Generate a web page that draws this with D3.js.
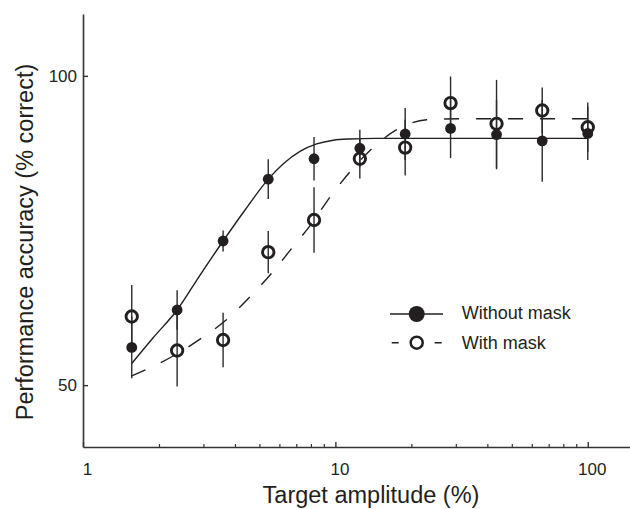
<!DOCTYPE html>
<html>
<head>
<meta charset="utf-8">
<script src="https://cdn.jsdelivr.net/npm/d3@7"></script>
<style>
  html, body { margin: 0; padding: 0; background: #fff; }
  svg { display: block; }
  text { font-family: "Liberation Sans", Arial, sans-serif; fill: #231f20; }
</style>
</head>
<body>
<svg id="chart" width="630" height="509"></svg>
<script>
// ---- data ----
const amplitudes   = [1.56, 2.36, 3.59, 5.42, 8.23, 12.5, 18.9, 28.6, 43.5, 66, 100];
const noMask       = [56.1, 62.15, 73.3, 83.3, 86.6, 88.3, 90.6, 91.5, 90.5, 89.5, 90.7];
const noMaskErr    = [5.0, 3.2, 1.7, 3.2, 3.5, 3.0, 4.2, 4.8, 5.6, 6.6, 4.3];
const withMask     = [61.1, 55.6, 57.3, 71.5, 76.7, 86.6, 88.4, 95.6, 92.25, 94.4, 91.7];
const withMaskErr  = [5.1, 5.8, 4.4, 3.4, 5.3, 3.2, 4.5, 4.3, 7.1, 3.7, 4.0];

// fitted psychometric curves
const fitNoMaskX   = [1.56, 1.9, 2.36, 2.91, 3.59, 4.4, 5.42, 6.22, 7.24, 8.43, 9.81, 11.4, 14.4, 100];
const fitNoMaskY   = [53.5, 57.7, 62.15, 67.8, 73.3, 78.4, 83.3, 85.8, 87.8, 89.0, 89.6, 89.8, 89.9, 89.9];
const fitMaskX     = [1.56, 2.32, 2.95, 3.71, 4.59, 5.59, 6.71, 8.05, 9.52, 11.43, 13.93, 17.5, 23.0, 31.2, 100];
const fitMaskY     = [51.5, 54.9, 57.6, 60.6, 64.3, 68.1, 72.1, 76.1, 80.4, 84.5, 88.2, 91.3, 92.9, 93.06, 93.06];

const xMajorTicks  = [1, 10, 100];
const xMinorTicks  = [2, 3, 4, 5, 6, 7, 8, 9, 20, 30, 40, 50, 60, 70, 80, 90];
const yTicks       = [50, 100];
const seriesNames  = ["Without mask", "With mask"];
const xTitle = "Target amplitude (%)";
const yTitle = "Performance accuracy (% correct)";

// ---- drawing ----
const svg = d3.select("#chart");
const x = d3.scaleLog().domain([1, 147]).range([83, 630]);
const y = d3.scaleLinear().domain([40, 110]).range([447, 14]);
const ink = "#231f20";
const axisCol = "#333";

// axes
const gx = svg.append("g").attr("transform", "translate(0,447)")
  .call(d3.axisBottom(x).tickValues(xMinorTicks).tickSizeInner(-3).tickSizeOuter(0).tickFormat(""));
gx.selectAll(".domain").attr("stroke", axisCol).attr("stroke-width", 1.6);
gx.selectAll(".tick line").attr("stroke", axisCol).attr("stroke-width", 1.2);

const gx2 = svg.append("g").attr("transform", "translate(0,447)")
  .call(d3.axisBottom(x).tickValues(xMajorTicks).tickSizeInner(-5).tickSizeOuter(0)
        .tickPadding(16).tickFormat(d3.format("d")));
gx2.select(".domain").remove();
gx2.selectAll(".tick line").attr("stroke", axisCol).attr("stroke-width", 1.4);
gx2.selectAll(".tick text").attr("font-size", 17).attr("dx", 4)
  .attr("font-family", "Liberation Sans, Arial, sans-serif").attr("fill", ink);

const gy = svg.append("g").attr("transform", "translate(83,0)")
  .call(d3.axisLeft(y).tickValues(yTicks).tickSizeInner(-5).tickSizeOuter(0).tickPadding(6));
gy.selectAll(".domain").attr("stroke", axisCol).attr("stroke-width", 1.6);
gy.selectAll(".tick line").attr("stroke", axisCol).attr("stroke-width", 1.4);
gy.selectAll(".tick text").attr("font-size", 17)
  .attr("font-family", "Liberation Sans, Arial, sans-serif").attr("fill", ink);

// titles
svg.append("text").attr("x", 371).attr("y", 503).attr("text-anchor", "middle")
  .attr("font-size", 23.5).text(xTitle);
svg.append("text").attr("transform", "translate(33,242) rotate(-90)")
  .attr("text-anchor", "middle").attr("font-size", 23.5).text(yTitle);

// fit curves
const line = d3.line().x(d => x(d[0])).y(d => y(d[1])).curve(d3.curveMonotoneX);
svg.append("path").datum(d3.zip(fitNoMaskX, fitNoMaskY))
  .attr("d", line).attr("fill", "none").attr("stroke", ink).attr("stroke-width", 1.4);
svg.append("path").datum(d3.zip(fitMaskX, fitMaskY))
  .attr("d", line).attr("fill", "none").attr("stroke", ink).attr("stroke-width", 1.4)
  .attr("stroke-dasharray", "15,17");

// error bars
const bars = amplitudes.flatMap((a, i) => [
  {a, v: noMask[i], e: noMaskErr[i]},
  {a, v: withMask[i], e: withMaskErr[i]}
]);
svg.append("g").selectAll("line").data(bars).join("line")
  .attr("x1", d => x(d.a)).attr("x2", d => x(d.a))
  .attr("y1", d => y(d.v - d.e)).attr("y2", d => y(d.v + d.e))
  .attr("stroke", "#2b2b2b").attr("stroke-width", 1.4);

// markers
svg.append("g").selectAll("circle").data(d3.zip(amplitudes, withMask)).join("circle")
  .attr("cx", d => x(d[0])).attr("cy", d => y(d[1])).attr("r", 5.7)
  .attr("fill", "none").attr("stroke", ink).attr("stroke-width", 2.9);
svg.append("g").selectAll("circle").data(d3.zip(amplitudes, noMask)).join("circle")
  .attr("cx", d => x(d[0])).attr("cy", d => y(d[1])).attr("r", 5.4)
  .attr("fill", ink);

// legend
const lg = svg.append("g");
lg.append("line").attr("x1", 390).attr("x2", 443).attr("y1", 314).attr("y2", 314)
  .attr("stroke", ink).attr("stroke-width", 1.4);
lg.append("circle").attr("cx", 416.7).attr("cy", 314).attr("r", 8).attr("fill", ink);
lg.append("line").attr("x1", 391.7).attr("x2", 441.7).attr("y1", 342.7).attr("y2", 342.7)
  .attr("stroke", ink).attr("stroke-width", 1.6).attr("stroke-dasharray", "7,36");
lg.append("circle").attr("cx", 416.7).attr("cy", 342.7).attr("r", 6)
  .attr("fill", "none").attr("stroke", ink).attr("stroke-width", 2.5);
lg.selectAll("text").data(seriesNames).join("text")
  .attr("x", 461.7).attr("y", (d, i) => 318.5 + i * 30)
  .attr("font-size", 18).text(d => d);
</script>
</body>
</html>
